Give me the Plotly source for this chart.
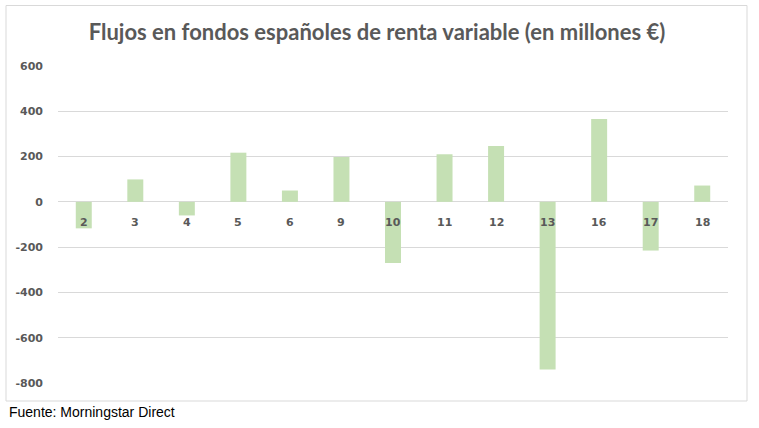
import plotly.graph_objects as go

categories = ["2", "3", "4", "5", "6", "9", "10", "11", "12", "13", "16", "17", "18"]
values = [-117, 99, -60, 217, 50, 198, -270, 210, 246, -740, 366, -215, 72]
y_ticks = [600, 400, 200, 0, -200, -400, -600, -800]

title = "Flujos en fondos españoles de renta variable (en millones €)"
source = "Fuente: Morningstar Direct"

W, H = 759, 428
L, R, T, B = 58, 31, 65, 44
pw, ph = W - L - R, H - T - B

def px_x(p):
    return (p - L) / pw

def px_y(p):
    return (H - B - p) / ph

fig = go.Figure()
fig.add_trace(go.Bar(
    x=categories, y=values,
    marker=dict(color="#c5e0b4", line=dict(width=0)),
    width=0.31,
    hoverinfo="x+y",
))

for i, c in enumerate(categories):
    fig.add_annotation(
        x=i, y=0, xref="x", yref="y",
        text=c, showarrow=False,
        yanchor="top", yshift=-12,
        font=dict(family="DejaVu Sans", size=11, color="#595959", weight="bold"),
    )

fig.add_shape(type="rect", xref="paper", yref="paper",
              x0=px_x(6), x1=px_x(747), y0=px_y(401), y1=px_y(5.5),
              line=dict(color="#d9d9d9", width=1), layer="below")

fig.add_annotation(
    x=px_x(7), y=px_y(412), xref="paper", yref="paper",
    text=source, showarrow=False, xanchor="left", yanchor="middle",
    font=dict(family="Liberation Sans", size=14, color="#000000"),
)

fig.update_layout(
    width=W, height=H,
    margin=dict(l=L, r=R, t=T, b=B),
    paper_bgcolor="white", plot_bgcolor="white",
    showlegend=False,
    title=dict(text=title, x=377 / W, xref="container", xanchor="center",
               y=1 - 32 / H, yref="container", yanchor="middle",
               font=dict(family="Lato", size=22, color="#595959", weight="bold")),
    bargap=0.69,
    xaxis=dict(type="category", showticklabels=False, showgrid=False,
               zeroline=False, showline=False, ticks=""),
    yaxis=dict(range=[-804, 604], tickvals=y_ticks, ticktext=[str(v) for v in y_ticks],
               showgrid=True, gridcolor="#d9d9d9", gridwidth=1,
               zeroline=True, zerolinecolor="#d9d9d9", zerolinewidth=1,
               showline=False, ticks="", ticklabelstandoff=14,
               tickfont=dict(family="DejaVu Sans", size=11, color="#595959", weight="bold")),
)

fig.write_html("out.html", config={"displayModeBar": False},
               post_script="document.body.style.margin='0px';")
